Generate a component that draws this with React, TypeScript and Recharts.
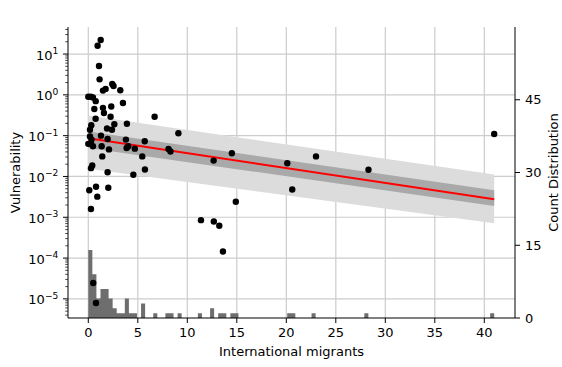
import React from 'react';
import { ComposedChart, XAxis, YAxis, CartesianGrid, Area, Line, Scatter } from 'recharts';

// Scatter points: international migrants (x) vs vulnerability (y)
const migrants = [
  1.25, 0.94, 1.08, 1.14, 1.48, 1.75, 2.42, 2.55, 3.23, 0.0,
  0.25, 0.47, 0.75, 0.61, 1.48, 1.58, 2.32, 3.5, 2.25, 0.74,
  6.7, 3.9, 0.3, 0.17, 1.89, 2.39, 2.63, 9.1, 1.28, 1.95,
  0.17, 0.27, 0.47, 0.33, 1.35, 2.09, 3.87, 4.04, 3.8, 4.7,
  5.7, 1.41, 5.45, 0.4, 0.27, 1.95, 4.55, 5.72, 0.1, 0.78,
  2.02, 0.91, 0.27, 8.1, 8.3, 12.66, 14.5, 20.1, 20.6, 14.9,
  11.38, 12.68, 13.23, 13.6, 23.0, 28.3, 41.0, 0.5, 0.78, 0.0,
];
const vulnerability = [
  22, 16, 5.1, 2.4, 1.27, 1.4, 1.85, 1.65, 1.3, 0.9,
  0.9, 0.86, 0.7, 0.45, 0.48, 0.36, 0.52, 0.63, 0.29, 0.26,
  0.29, 0.195, 0.18, 0.14, 0.15, 0.14, 0.19, 0.115, 0.1, 0.083,
  0.095, 0.064, 0.055, 0.08, 0.055, 0.046, 0.05, 0.055, 0.08, 0.048,
  0.073, 0.031, 0.031, 0.0185, 0.016, 0.0127, 0.011, 0.0148, 0.0046, 0.0056,
  0.0053, 0.0032, 0.0016, 0.047, 0.041, 0.0245, 0.037, 0.021, 0.0048, 0.0024,
  0.00085, 0.00079, 0.00062, 0.000145, 0.031, 0.0146, 0.11, 0.0000245, 0.0000079, 0.063,
];

// Regression fit and bands at the ends of the x range
const regX = [0, 41];
const regFit = [0.086, 0.00276];
const ciLow = [0.05, 0.0019];
const ciHigh = [0.127, 0.0046];
const piLow = [0.0154, 0.00071];
const piHigh = [0.31, 0.0112];

// Histogram (count distribution of migrants): 100 bins
const histBinWidth = 0.41;
const histBinTotal = 100;
const histBinIndex = [0, 1, 2, 3, 4, 5, 6, 7, 8, 9, 10, 11, 13, 16, 19, 20, 22, 27, 30, 32, 33, 35, 36, 49, 50, 55, 68, 99];
const histCounts = [14, 9, 4, 6, 6, 4, 2, 1, 1, 4, 1, 1, 3, 1, 1, 1, 1, 1, 2, 1, 1, 1, 1, 1, 1, 1, 1, 1];

// Ticks
const xTicks = [0, 5, 10, 15, 20, 25, 30, 35, 40];
const yMajorExponents = [-6, -5, -4, -3, -2, -1, 0, 1];
const yMinorFactors = [1, 2, 3, 4, 5, 6, 7, 8, 9];
const yGridValues = [1e-5, 1e-4, 1e-3, 1e-2, 1e-1, 1, 10];
const countTicks = [0, 15, 30, 45];

const X_DOMAIN: [number, number] = [-2.05, 43.1];
const Y_DOMAIN: [number, number] = [3.4e-6, 46];
const FONT = 'DejaVu Sans';
const TICK_SIZE = 5;
const TICK_MARGIN = 4.7;

const scatterData = migrants.map((x, i) => ({ x, y: vulnerability[i] }));
const bandData = regX.map((x, i) => ({
  x,
  fit: regFit[i],
  ci: [ciLow[i], ciHigh[i]],
  pi: [piLow[i], piHigh[i]],
}));
const histData = Array.from({ length: histBinTotal + 1 }, (_, i) => {
  const k = histBinIndex.indexOf(i);
  return { x: i * histBinWidth, c: k >= 0 ? histCounts[k] : 0 };
});

const yTicks: number[] = [];
yMajorExponents.forEach((e) => {
  yMinorFactors.forEach((m) => {
    const v = m * Math.pow(10, e);
    if (v >= Y_DOMAIN[0] && v <= Y_DOMAIN[1]) yTicks.push(v);
  });
});

const LogTick = (props: any) => {
  const { x, y, payload } = props;
  const v = payload.value as number;
  const lg = Math.log10(v);
  const e = Math.round(lg);
  const major = Math.abs(lg - e) < 1e-6;
  const axisX = x + TICK_SIZE + TICK_MARGIN;
  return (
    <g>
      <line
        x1={axisX - (major ? 5 : 2.8)}
        x2={axisX}
        y1={y}
        y2={y}
        stroke="#000"
        strokeWidth={major ? 1 : 0.7}
      />
      {major && (
        <text x={x} y={y + 5.5} textAnchor="end" fontSize={13} fontFamily={FONT} fill="#000">
          10
          <tspan dy={-5.5} fontSize={9.1}>
            {e < 0 ? '\u2212' + Math.abs(e) : String(e)}
          </tspan>
        </text>
      )}
    </g>
  );
};

const Dot = (p: any) => <circle cx={p.cx} cy={p.cy} r={3.2} fill="#000" />;

export default function App() {
  return (
    <div style={{ position: 'absolute', left: 0, top: 0, width: 562, height: 367, background: '#fff' }}>
      <ComposedChart width={562} height={367} margin={{ top: 27, right: 0, bottom: 0, left: 0 }}>
        <CartesianGrid
          xAxisId={0}
          yAxisId="left"
          stroke="#cccccc"
          strokeWidth={1.2}
          horizontalValues={yGridValues}
          verticalValues={xTicks}
        />
        <XAxis
          dataKey="x"
          type="number"
          domain={X_DOMAIN}
          allowDataOverflow
          ticks={xTicks}
          interval={0}
          height={49}
          tickSize={TICK_SIZE}
          tickMargin={5}
          axisLine={{ stroke: '#000', strokeWidth: 1 }}
          tickLine={{ stroke: '#000', strokeWidth: 1 }}
          tick={{ fontSize: 13, fill: '#000', fontFamily: FONT }}
          label={{
            value: 'International migrants',
            position: 'insideBottom',
            offset: 11,
            style: { fontSize: 13, fill: '#000', fontFamily: FONT },
          }}
        />
        <XAxis
          xAxisId="top"
          orientation="top"
          type="number"
          domain={X_DOMAIN}
          allowDataOverflow
          height={0}
          tick={false}
          tickLine={false}
          axisLine={{ stroke: '#000', strokeWidth: 1 }}
          label={{
            value: 'Linear Regression',
            position: 'top',
            offset: 11,
            style: { fontSize: 15.5, fill: '#000', fontFamily: FONT },
          }}
        />
        <YAxis
          yAxisId="left"
          type="number"
          scale="log"
          domain={Y_DOMAIN}
          allowDataOverflow
          ticks={yTicks}
          interval={0}
          width={68}
          tickSize={TICK_SIZE}
          tickMargin={TICK_MARGIN}
          tickLine={false}
          tick={<LogTick />}
          axisLine={{ stroke: '#000', strokeWidth: 1 }}
          label={{
            value: 'Vulnerability',
            angle: -90,
            position: 'insideLeft',
            offset: 15.4,
            style: { fontSize: 13, fill: '#000', fontFamily: FONT, textAnchor: 'middle' },
          }}
        />
        <YAxis
          yAxisId="right"
          orientation="right"
          type="number"
          domain={[0, 60]}
          allowDataOverflow
          ticks={countTicks}
          interval={0}
          width={47}
          tickSize={TICK_SIZE}
          tickMargin={5}
          axisLine={{ stroke: '#000', strokeWidth: 1 }}
          tickLine={{ stroke: '#000', strokeWidth: 1 }}
          tick={{ fontSize: 13, fill: '#000', fontFamily: FONT }}
          label={{
            value: 'Count Distribution',
            angle: -90,
            position: 'insideRight',
            offset: 8.6,
            style: { fontSize: 13, fill: '#000', fontFamily: FONT, textAnchor: 'middle' },
          }}
        />
        <Area
          data={histData}
          yAxisId="right"
          dataKey="c"
          type="stepAfter"
          stroke="none"
          fill="#6e6e6e"
          fillOpacity={1}
          dot={false}
          activeDot={false}
          isAnimationActive={false}
        />
        <Area
          data={bandData}
          yAxisId="left"
          dataKey="pi"
          type="linear"
          stroke="none"
          fill="#dcdcdc"
          fillOpacity={1}
          dot={false}
          activeDot={false}
          isAnimationActive={false}
        />
        <Area
          data={bandData}
          yAxisId="left"
          dataKey="ci"
          type="linear"
          stroke="none"
          fill="#a9a9a9"
          fillOpacity={1}
          dot={false}
          activeDot={false}
          isAnimationActive={false}
        />
        <Line
          data={bandData}
          yAxisId="left"
          dataKey="fit"
          type="linear"
          stroke="#ff0000"
          strokeWidth={2}
          dot={false}
          activeDot={false}
          isAnimationActive={false}
        />
        <Scatter
          data={scatterData}
          yAxisId="left"
          dataKey="y"
          shape={Dot}
          isAnimationActive={false}
        />
      </ComposedChart>
    </div>
  );
}
